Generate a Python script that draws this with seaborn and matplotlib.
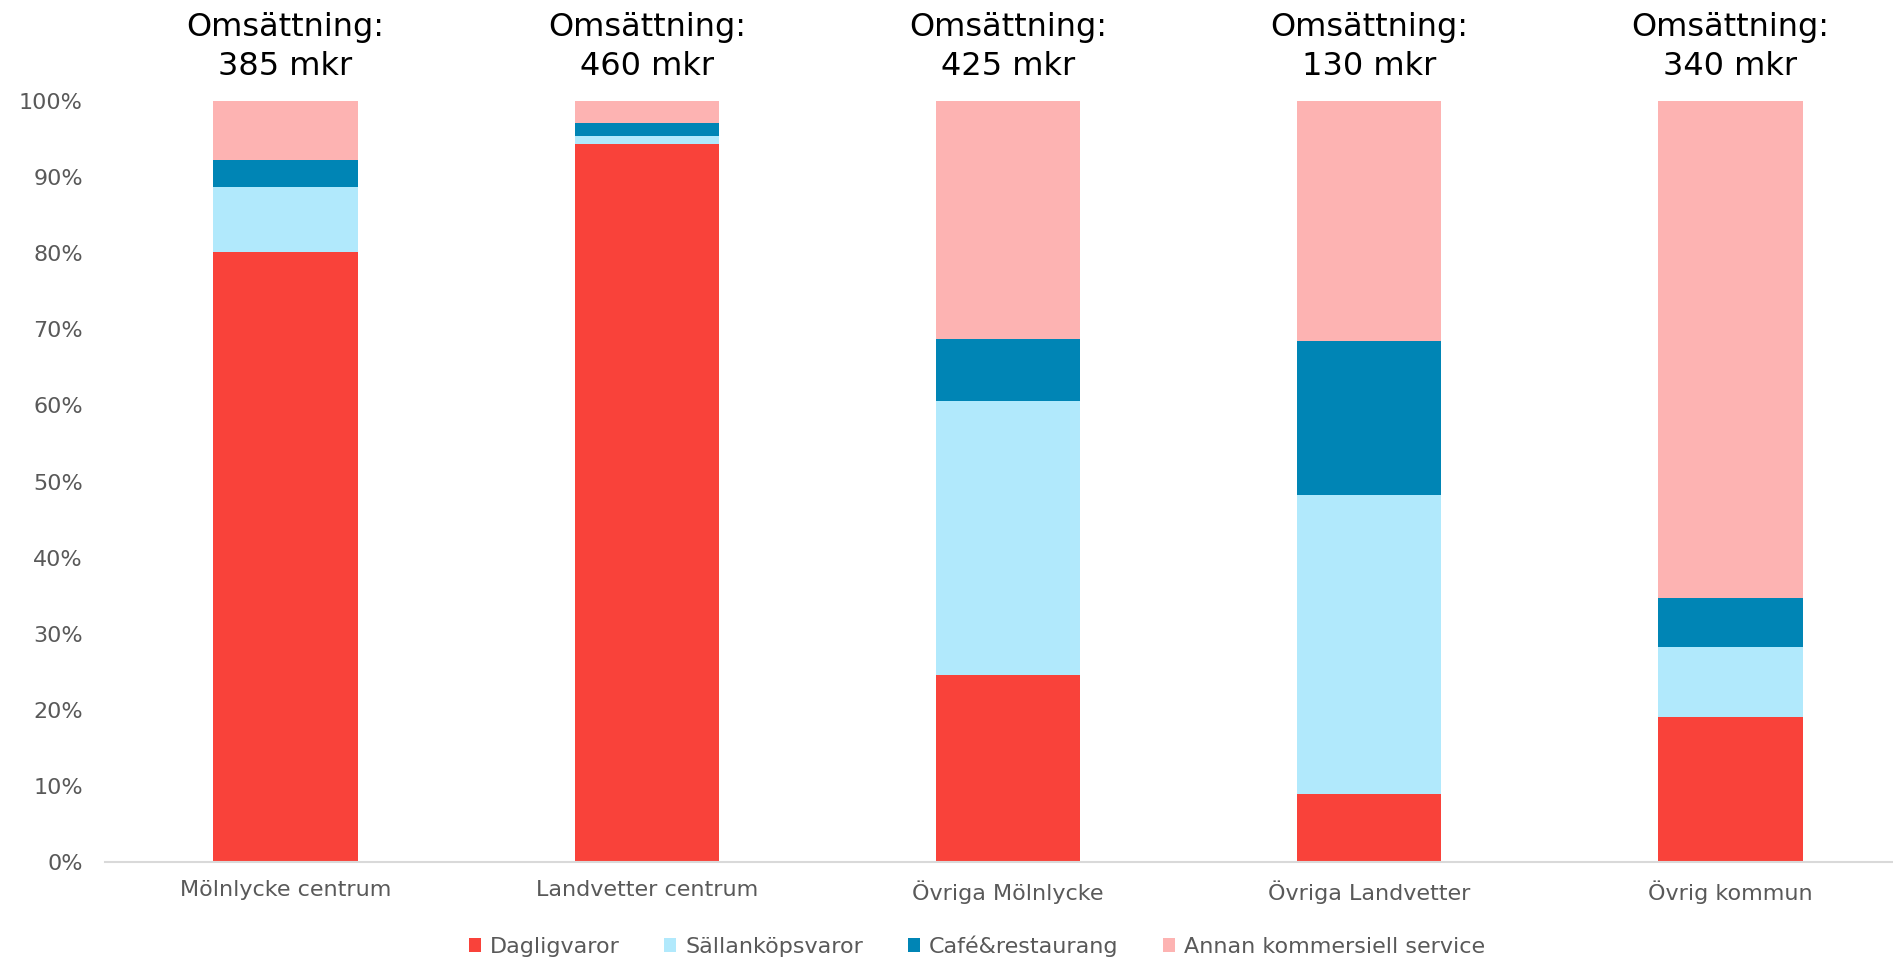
import numpy as np
import pandas as pd
import matplotlib
matplotlib.use("Agg")
import matplotlib.pyplot as plt
from matplotlib.patches import Patch
import seaborn as sns

# data (share of turnover, %)
areas = ["Mölnlycke centrum", "Landvetter centrum", "Övriga Mölnlycke",
         "Övriga Landvetter", "Övrig kommun"]
turnover = [385, 460, 425, 130, 340]
segments = ["Dagligvaror", "Sällanköpsvaror", "Café&restaurang",
            "Annan kommersiell service"]
dagligvaror = [80.2, 94.3, 24.6, 8.9, 19.0]
sallankop = [8.5, 1.1, 36.0, 39.3, 9.3]
cafe = [3.5, 1.7, 8.1, 20.3, 6.4]
annan = [7.8, 2.9, 31.3, 31.5, 65.3]
colors = ["#F9423A", "#B1E9FC", "#0085B5", "#FDB3B2"]

sns.set_theme(style="white")
plt.rcParams["font.family"] = ["DejaVu Sans"]

df = pd.DataFrame({
    "area": areas,
    "Dagligvaror": dagligvaror,
    "Sällanköpsvaror": sallankop,
    "Café&restaurang": cafe,
    "Annan kommersiell service": annan,
})
# cumulative shares, drawn from the top layer down so they look stacked
cum = df[segments].cumsum(axis=1) / 100

fig = plt.figure(figsize=(18.93, 9.6), dpi=100)
ax = fig.add_axes([105 / 1893, 98 / 960, 1 - 105 / 1893, 761 / 960])

for seg, col in reversed(list(zip(segments, colors))):
    sns.barplot(x=df["area"], y=cum[seg], color=col, width=0.4,
                saturation=1, linewidth=0, ax=ax)

ax.set_ylim(0, 1)
ax.set_xlim(-0.5, 4.45)
ax.set_yticks(np.arange(0, 1.01, 0.1))
ax.set_yticklabels([f"{int(round(v * 100))}%" for v in np.arange(0, 1.01, 0.1)])
ax.set_xlabel("")
ax.set_ylabel("")
ax.tick_params(axis="both", length=0, labelsize=16, labelcolor="#595959")
ax.tick_params(axis="x", pad=13)
ax.tick_params(axis="y", pad=16)
sns.despine(ax=ax, left=True)
ax.spines["bottom"].set_color("#D9D9D9")
ax.spines["bottom"].set_linewidth(1.5)

for i, t in enumerate(turnover):
    ax.annotate(f"Omsättning:\n{t} mkr", xy=(i, 1.0), xycoords=("data", "axes fraction"),
                xytext=(0, 14), textcoords="offset points", ha="center", va="bottom",
                fontsize=23, color="black", linespacing=1.32)

handles = [Patch(facecolor=c, edgecolor="none", label=s) for s, c in zip(segments, colors)]
leg = fig.legend(handles=handles, loc="center", bbox_to_anchor=(0.516, 0.0146), ncol=4,
                 frameon=False, fontsize=16, handlelength=0.55, handleheight=0.55,
                 handletextpad=0.4, columnspacing=2.0)
for txt in leg.get_texts():
    txt.set_color("#595959")

fig.savefig("out.png", dpi=100)
